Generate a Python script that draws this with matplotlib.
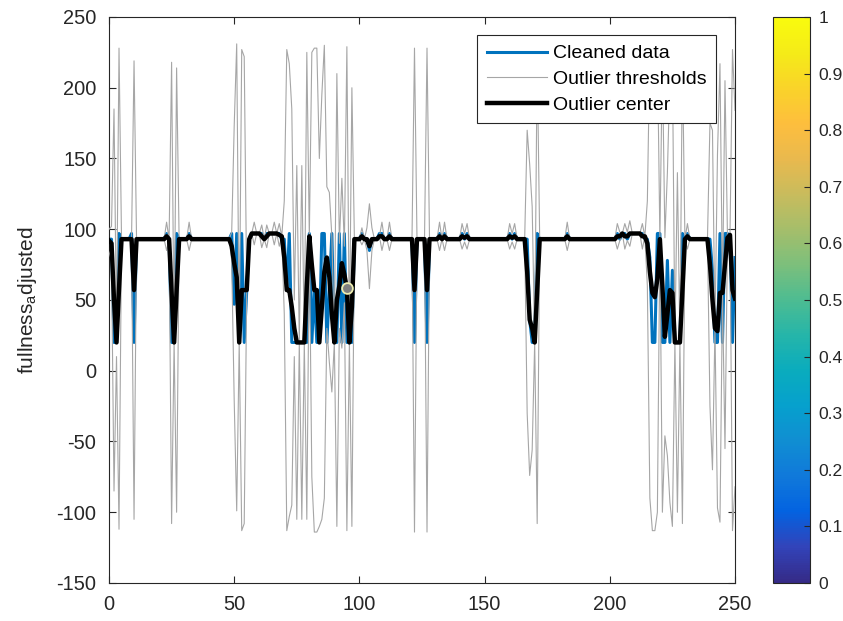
import numpy as np
import matplotlib
matplotlib.use("Agg")
import matplotlib.pyplot as plt
from matplotlib.colors import LinearSegmentedColormap, Normalize
from matplotlib.cm import ScalarMappable

plt.rcParams["font.family"] = ["Liberation Sans", "DejaVu Sans"]
plt.rcParams["mathtext.default"] = "regular"
plt.rcParams["axes.unicode_minus"] = False

# Cleaned signal, one value per sample (0..250)
cleaned_data = [
    93, 93, 20, 20, 97, 93, 93, 93, 93, 97,
    20, 93, 93, 93, 93, 93, 93, 93, 93, 93,
    93, 93, 93, 97, 93, 20, 20, 97, 93, 93,
    93, 93, 97, 93, 93, 93, 93, 93, 93, 93,
    93, 93, 93, 93, 93, 93, 93, 93, 93, 97,
    47, 97, 20, 97, 20, 57, 93, 97, 97, 97,
    97, 97, 93, 97, 97, 97, 97, 97, 97, 93,
    93, 57, 97, 20, 20, 20, 20, 20, 20, 20,
    97, 20, 57, 20, 20, 97, 97, 20, 57, 97,
    20, 20, 97, 20, 97, 20, 20, 20, 93, 93,
    93, 97, 93, 93, 85, 93, 93, 93, 97, 97,
    93, 93, 97, 93, 93, 93, 93, 93, 93, 93,
    93, 93, 20, 93, 93, 93, 93, 20, 93, 93,
    93, 93, 97, 93, 97, 93, 93, 93, 93, 93,
    93, 97, 93, 97, 93, 93, 93, 93, 93, 93,
    93, 93, 93, 93, 93, 93, 93, 93, 93, 93,
    97, 93, 97, 93, 93, 93, 93, 93, 36, 20,
    20, 97, 93, 93, 93, 93, 93, 93, 93, 93,
    93, 93, 93, 97, 93, 93, 93, 93, 93, 93,
    93, 93, 93, 93, 93, 93, 93, 93, 93, 93,
    93, 93, 93, 97, 93, 97, 97, 93, 97, 97,
    97, 97, 97, 97, 93, 93, 80, 20, 20, 97,
    97, 20, 20, 78, 20, 71, 20, 20, 20, 97,
    93, 97, 93, 93, 93, 93, 93, 93, 93, 93,
    93, 71, 20, 20, 97, 20, 97, 97, 93, 20,
    80,
]

# Moving center used for outlier detection
outlier_center = [
    92, 90, 50, 20, 58, 93, 93, 93, 93, 93,
    57, 93, 93, 93, 93, 93, 93, 93, 93, 93,
    93, 93, 93, 95, 93, 55, 20, 57, 93, 93,
    93, 93, 95, 93, 93, 93, 93, 93, 93, 93,
    93, 93, 93, 93, 93, 93, 93, 93, 93, 88,
    76, 66, 20, 57, 57, 57, 93, 97, 97, 97,
    97, 95, 93, 95, 97, 97, 97, 97, 96, 95,
    80, 57, 57, 45, 30, 20, 20, 20, 20, 60,
    95, 75, 57, 57, 20, 45, 70, 80, 66, 40,
    20, 50, 60, 76, 68, 58, 20, 45, 93, 93,
    93, 95, 93, 93, 88, 93, 93, 93, 95, 95,
    93, 93, 95, 93, 93, 93, 93, 93, 93, 93,
    93, 93, 57, 93, 93, 93, 93, 57, 93, 93,
    93, 93, 95, 93, 95, 93, 93, 93, 93, 93,
    93, 95, 94, 95, 93, 93, 93, 93, 93, 93,
    93, 93, 93, 93, 93, 93, 93, 93, 93, 93,
    95, 94, 95, 93, 93, 93, 93, 70, 36, 30,
    20, 57, 93, 93, 93, 93, 93, 93, 93, 93,
    93, 93, 93, 95, 93, 93, 93, 93, 93, 93,
    93, 93, 93, 93, 93, 93, 93, 93, 93, 93,
    93, 93, 93, 95, 95, 97, 95, 95, 97, 97,
    97, 97, 97, 95, 95, 90, 70, 55, 52, 65,
    93, 60, 24, 40, 57, 55, 20, 20, 20, 57,
    93, 95, 93, 93, 93, 93, 93, 93, 93, 93,
    75, 50, 30, 28, 55, 55, 75, 94, 96, 57,
    51,
]

# Half-distance between the upper and lower outlier thresholds
threshold_spread = [
    8, 12, 135, 10, 170, 0, 0, 0, 0, 0,
    162, 0, 0, 0, 0, 0, 0, 0, 0, 0,
    0, 0, 0, 10, 0, 163, 0, 157, 0, 0,
    0, 0, 10, 0, 0, 0, 0, 0, 0, 0,
    0, 0, 0, 0, 0, 0, 0, 0, 0, 10,
    97, 165, 0, 170, 165, 0, 0, 0, 8, 0,
    0, 8, 0, 8, 0, 0, 8, 0, 8, 0,
    40, 170, 160, 140, 20, 125, 0, 125, 0, 165,
    0, 150, 171, 171, 130, 150, 160, 50, 60, 55,
    0, 160, 30, 60, 20, 171, 0, 155, 0, 0,
    0, 6, 0, 8, 30, 8, 0, 0, 0, 10,
    0, 0, 10, 0, 0, 0, 0, 0, 0, 0,
    0, 0, 171, 0, 0, 0, 0, 171, 0, 0,
    0, 0, 10, 0, 10, 0, 0, 0, 0, 0,
    0, 9, 3, 9, 0, 0, 0, 0, 0, 0,
    0, 0, 0, 0, 0, 0, 0, 0, 0, 0,
    9, 3, 9, 0, 0, 0, 0, 100, 110, 86,
    0, 165, 0, 0, 0, 0, 0, 0, 0, 0,
    0, 0, 0, 10, 0, 0, 0, 0, 0, 0,
    0, 0, 0, 0, 0, 0, 0, 0, 0, 0,
    0, 0, 0, 9, 3, 0, 9, 3, 9, 0,
    0, 0, 0, 9, 0, 30, 160, 168, 165, 165,
    0, 160, 70, 100, 150, 165, 0, 120, 0, 165,
    0, 9, 0, 0, 0, 0, 0, 0, 0, 0,
    100, 120, 0, 125, 162, 0, 130, 0, 0, 170,
    133,
]

# Highlighted sample
marker_x = [95]
marker_y = [58.5]

x_ticks = [0, 50, 100, 150, 200, 250]
y_ticks = [-150, -100, -50, 0, 50, 100, 150, 200, 250]
cbar_ticks = [0, 0.1, 0.2, 0.3, 0.4, 0.5, 0.6, 0.7, 0.8, 0.9, 1]
cbar_labels = ["0", "0.1", "0.2", "0.3", "0.4", "0.5", "0.6", "0.7", "0.8", "0.9", "1"]

# Parula-like colormap anchors
parula_anchors = [
    (0.2081, 0.1663, 0.5292), (0.1959, 0.2645, 0.7279), (0.0117, 0.3875, 0.8820),
    (0.0629, 0.4737, 0.8554), (0.0641, 0.5570, 0.8240), (0.0239, 0.6287, 0.8038),
    (0.0384, 0.6743, 0.7436), (0.1453, 0.7098, 0.6646), (0.3022, 0.7376, 0.5712),
    (0.4871, 0.7491, 0.4840), (0.6473, 0.7456, 0.4188), (0.7858, 0.7356, 0.3633),
    (0.9139, 0.7258, 0.3063), (0.9938, 0.7455, 0.2403), (0.9789, 0.8271, 0.1633),
    (0.9598, 0.9218, 0.0948), (0.9763, 0.9831, 0.0538),
]
parula = LinearSegmentedColormap.from_list("parula", parula_anchors, N=256)

center = np.array(outlier_center, dtype=float)
spread = np.array(threshold_spread, dtype=float)
samples = np.arange(len(center))
upper = center + spread
lower = center - spread

axis_color = "#262626"
font_size = 14.4

fig = plt.figure(figsize=(8.43, 6.21), dpi=100)
ax = fig.add_axes([109 / 843, 1 - 583 / 621, 626 / 843, 566 / 621])

ax.plot(samples, cleaned_data, color="#0072BD", lw=2.2, zorder=2, label="Cleaned data")
ax.plot(samples, upper, color="#a6a6a6", lw=0.8, zorder=3, label="Outlier thresholds")
ax.plot(samples, lower, color="#a6a6a6", lw=0.8, zorder=3)
ax.plot(samples, center, color="black", lw=3.2, zorder=4, label="Outlier center")
ax.scatter(marker_x, marker_y, s=60, facecolor="#7f7f7f", edgecolor="#ececb0",
           linewidth=1.3, zorder=5)

ax.set_xlim(0, 250)
ax.set_ylim(-150, 250)
ax.set_xticks(x_ticks)
ax.set_yticks(y_ticks)
ax.tick_params(direction="in", length=5, width=0.8, colors=axis_color,
               labelsize=font_size, top=True, right=True)
ax.tick_params(axis="x", pad=9)
ax.tick_params(axis="y", pad=9)
for s in ax.spines.values():
    s.set_color(axis_color)
    s.set_linewidth(0.8)

ax.set_ylabel("fullness$_a$djusted", fontsize=font_size + 0.6, color=axis_color)
ax.yaxis.set_label_coords(-0.112, 0.5)

leg = ax.legend(loc="upper right", bbox_to_anchor=(716 / 843, 1 - 35 / 621),
                bbox_transform=fig.transFigure, borderaxespad=0, fontsize=14,
                handlelength=3.1, handletextpad=0.3, labelspacing=0.41,
                borderpad=0.5, fancybox=False, framealpha=1)
leg.get_frame().set_edgecolor(axis_color)
leg.get_frame().set_linewidth(0.8)

cax = fig.add_axes([773 / 843, 1 - 583 / 621, 37 / 843, 566 / 621])
sm = ScalarMappable(norm=Normalize(0, 1), cmap=parula)
cb = fig.colorbar(sm, cax=cax)
cb.set_ticks(cbar_ticks)
cb.set_ticklabels(cbar_labels)
cax.tick_params(direction="in", length=4, width=0.8, colors=axis_color,
                labelsize=12.6, pad=6)
cb.outline.set_edgecolor(axis_color)
cb.outline.set_linewidth(0.8)

fig.savefig("out.png", dpi=100)
